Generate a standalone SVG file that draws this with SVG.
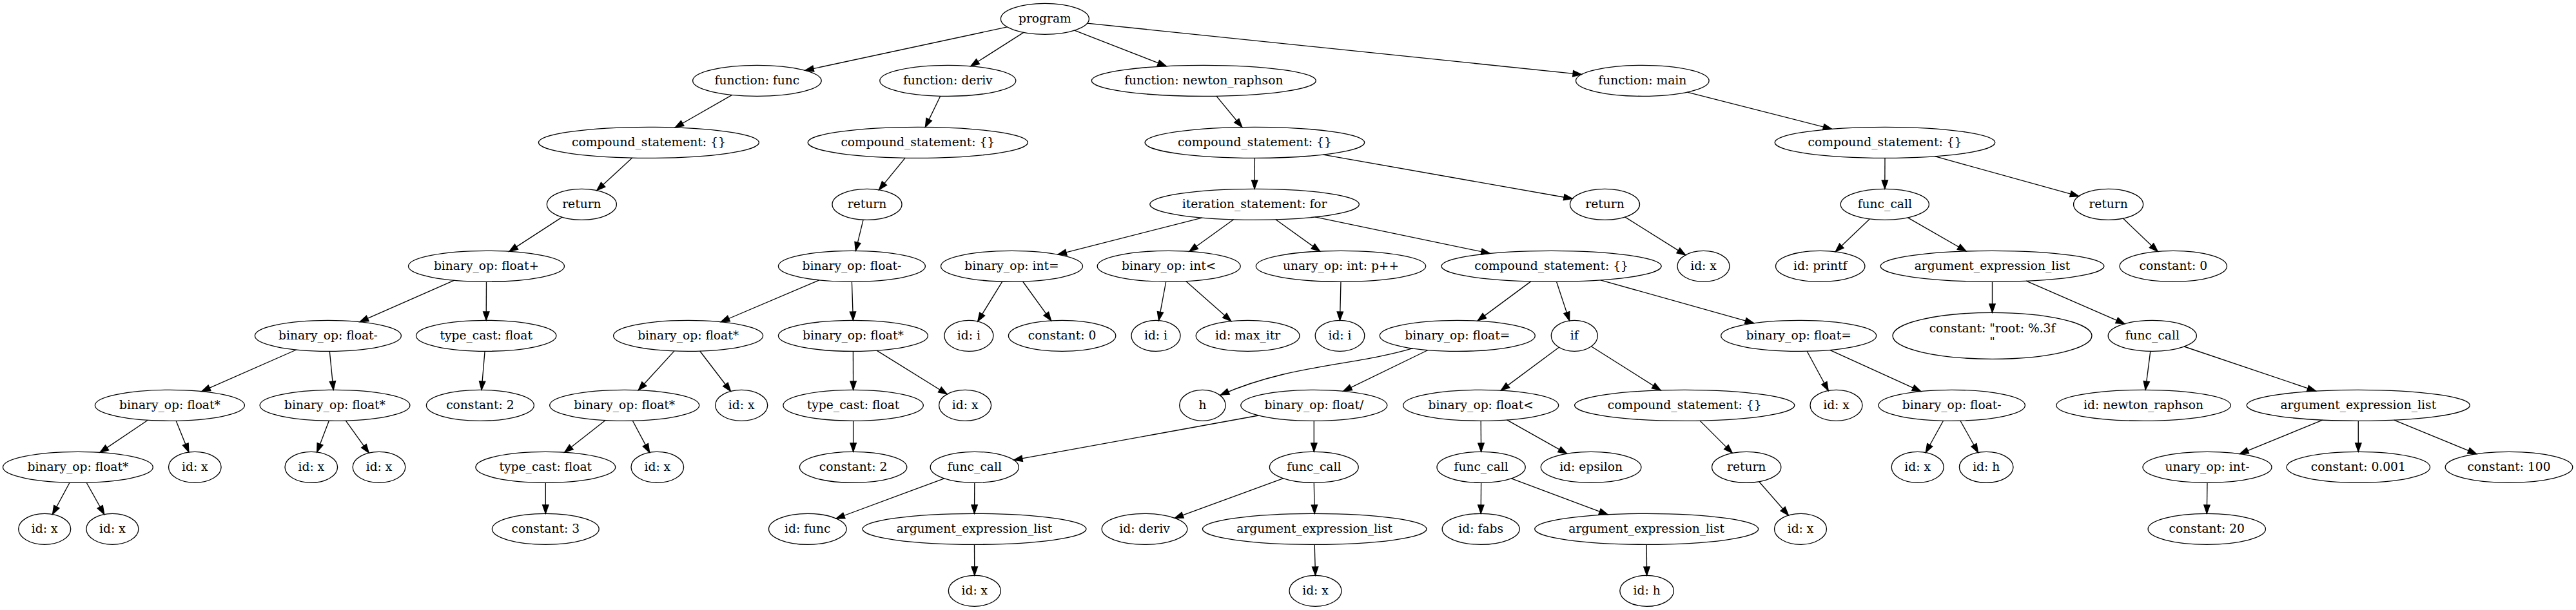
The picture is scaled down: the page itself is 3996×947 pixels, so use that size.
<svg xmlns="http://www.w3.org/2000/svg" width="3996" height="947" viewBox="0 0 3996 947">
<style>
.node ellipse{fill:none;stroke:#000;stroke-width:1.33}
.node text{font-family:"DejaVu Serif","Liberation Serif",serif;font-size:18.67px;text-anchor:middle;fill:#000}
#edges path{fill:none;stroke:#000;stroke-width:1.33;marker-end:url(#arr)}
</style>
<defs>
<marker id="arr" markerUnits="userSpaceOnUse" markerWidth="14" markerHeight="10" refX="13.33" refY="4.67" orient="auto" overflow="visible">
<path d="M0,0 L13.33,4.67 L0,9.33 Z" fill="#000" stroke="#000" stroke-width="1.33"/>
</marker>
</defs>
<rect width="3996" height="947" fill="#fff"/>
<g id="edges">
<path d="M1562.5,41.9 L1248.8,109.3"/>
<path d="M1587.9,50.4 L1505.8,102.7"/>
<path d="M1666.7,47.2 L1809.2,102.7"/>
<path d="M1686.6,36.1 L2453.4,115.6"/>
<path d="M1135.7,147.4 L1047.2,198.0"/>
<path d="M1458.7,149.2 L1435.4,197.4"/>
<path d="M1886.9,149.2 L1926.8,197.5"/>
<path d="M2617.4,143.1 L2841.6,200.3"/>
<path d="M980.7,245.1 L925.8,295.7"/>
<path d="M1404.2,245.2 L1363.5,294.8"/>
<path d="M1946.4,245.33 L1946.1,293.33"/>
<path d="M2052.6,240.1 L2439.3,308.5"/>
<path d="M2924,245.33 L2923.8,293.33"/>
<path d="M3001.3,242.7 L3224.8,304.6"/>
<path d="M871.9,337.1 L789.9,390.4"/>
<path d="M1339.1,341.2 L1327.3,389.4"/>
<path d="M1864.6,338.1 L1641.0,395.1"/>
<path d="M1913.6,340.8 L1845.0,390.3"/>
<path d="M1978.9,340.8 L2047.6,390.1"/>
<path d="M2040.0,336.9 L2311.2,393.4"/>
<path d="M2520.7,336.9 L2614.7,395.9"/>
<path d="M2900.3,339.9 L2847.2,390.8"/>
<path d="M2959.4,337.8 L3050.0,390.0"/>
<path d="M3293.4,339.1 L3347.2,390.4"/>
<path d="M704.75,435.2 L558.1,499.7"/>
<path d="M754.5,437.33 L754.2,497.33"/>
<path d="M1270.85,434.8 L1118.3,499.75"/>
<path d="M1321.4,437.33 L1323.4,497.33"/>
<path d="M1554.8,437.1 L1516.7,499.0"/>
<path d="M1586.6,437.0 L1630.6,497.8"/>
<path d="M1808.7,437.3 L1797.5,497.5"/>
<path d="M1839.6,436.6 L1909.8,498.6"/>
<path d="M2080,437.33 L2078.5,497.33"/>
<path d="M2374.8,436.9 L2292.1,498.15"/>
<path d="M2414.5,437.3 L2434.55,497.9"/>
<path d="M2482.85,434.8 L2720.6,501.7"/>
<path d="M3090.5,437.33 L3090.5,485.33"/>
<path d="M3143.1,436.2 L3295.8,502.6"/>
<path d="M459.7,543.0 L312.8,607.6"/>
<path d="M511.3,545.3 L517.2,605.3"/>
<path d="M752.1,545.3 L747.0,605.3"/>
<path d="M1046.0,544.9 L990.3,605.75"/>
<path d="M1085.7,545.0 L1133.5,607.5"/>
<path d="M1323.4,545.33 L1323.6,605.33"/>
<path d="M1360.0,544.1 L1469.2,612.0"/>
<path d="M2191.7,540.7 C2100,568 2000,566 1893.3,613.3"/>
<path d="M2215.1,543.5 L2083.6,607.3"/>
<path d="M2418.3,539.2 L2328.35,606.15"/>
<path d="M2468.4,537.8 L2576.1,605.9"/>
<path d="M2803.1,545.2 L2836.2,606.5"/>
<path d="M2838.5,543.3 L2979.8,607.6"/>
<path d="M3335.8,545.3 L3328.1,605.3"/>
<path d="M3388.1,538.0 L3592.6,607.1"/>
<path d="M229.35,652.3 L155.0,702.4"/>
<path d="M273.1,653.25 L292.8,702.0"/>
<path d="M510.35,653.25 L491.75,701.9"/>
<path d="M536.4,653.1 L572.2,703.2"/>
<path d="M939.1,652.5 L875.75,702.2"/>
<path d="M981.4,653.2 L1007.6,702.4"/>
<path d="M1323.6,653.33 L1323.6,701.33"/>
<path d="M1952.3,645.0 L1572.6,714.2"/>
<path d="M2038.3,653.33 L2038.3,701.33"/>
<path d="M2297.2,653.33 L2297.6,701.33"/>
<path d="M2337.5,651.9 L2430.65,704.3"/>
<path d="M2637.0,653.1 L2687.3,703.4"/>
<path d="M3014.5,653.2 L2987.3,702.5"/>
<path d="M3041.0,653.2 L3068.5,702.5"/>
<path d="M3602.8,652.1 L3474.5,704.6"/>
<path d="M3658.3,653.33 L3658.3,701.33"/>
<path d="M3713.7,652.1 L3841.7,704.7"/>
<path d="M108.05,749.2 L81.5,798.5"/>
<path d="M134.2,749.2 L161.7,798.5"/>
<path d="M846.3,749.33 L846.3,797.33"/>
<path d="M1464.7,742.8 L1296.9,805.0"/>
<path d="M1511.8,749.33 L1511.5,797.33"/>
<path d="M1990.8,742.7 L1822.2,804.3"/>
<path d="M2038.3,749.33 L2039.2,797.33"/>
<path d="M2297.6,749.33 L2297.2,797.33"/>
<path d="M2344.5,742.9 L2494.0,798.8"/>
<path d="M2728.7,747.7 L2774.4,800.0"/>
<path d="M3424,749.33 L3423.3,797.33"/>
<path d="M1511.5,845.33 L1511.8,893.33"/>
<path d="M2039.2,845.33 L2040.5,893.33"/>
<path d="M2554.2,845.33 L2554.6,893.33"/>
</g>
<g id="n0" class="node"><ellipse cx="1620.9" cy="29.33" rx="68.5" ry="24"/><text x="1620.9" y="34.93">program</text></g>
<g id="n1" class="node"><ellipse cx="1174.4" cy="125.33" rx="99.8" ry="24"/><text x="1174.4" y="130.93">function: func</text></g>
<g id="n2" class="node"><ellipse cx="1470.3" cy="125.33" rx="105.5" ry="24"/><text x="1470.3" y="130.93">function: deriv</text></g>
<g id="n3" class="node"><ellipse cx="1867.3" cy="125.33" rx="174" ry="24"/><text x="1867.3" y="130.93">function: newton_raphson</text></g>
<g id="n4" class="node"><ellipse cx="2547.8" cy="125.33" rx="103.3" ry="24"/><text x="2547.8" y="130.93">function: main</text></g>
<g id="n5" class="node"><ellipse cx="1006.4" cy="221.33" rx="171" ry="24"/><text x="1006.4" y="226.93">compound_statement: {}</text></g>
<g id="n6" class="node"><ellipse cx="1423.8" cy="221.33" rx="170.6" ry="24"/><text x="1423.8" y="226.93">compound_statement: {}</text></g>
<g id="n7" class="node"><ellipse cx="1946.4" cy="221.33" rx="170.3" ry="24"/><text x="1946.4" y="226.93">compound_statement: {}</text></g>
<g id="n8" class="node"><ellipse cx="2924" cy="221.33" rx="170.8" ry="24"/><text x="2924" y="226.93">compound_statement: {}</text></g>
<g id="n9" class="node"><ellipse cx="902.4" cy="317.33" rx="54" ry="24"/><text x="902.4" y="322.93">return</text></g>
<g id="n10" class="node"><ellipse cx="1345" cy="317.33" rx="54" ry="24"/><text x="1345" y="322.93">return</text></g>
<g id="n11" class="node"><ellipse cx="1946.1" cy="317.33" rx="162.3" ry="24"/><text x="1946.1" y="322.93">iteration_statement: for</text></g>
<g id="n12" class="node"><ellipse cx="2489.5" cy="317.33" rx="54" ry="24"/><text x="2489.5" y="322.93">return</text></g>
<g id="n13" class="node"><ellipse cx="2923.8" cy="317.33" rx="68.6" ry="24"/><text x="2923.8" y="322.93">func_call</text></g>
<g id="n14" class="node"><ellipse cx="3270.6" cy="317.33" rx="54" ry="24"/><text x="3270.6" y="322.93">return</text></g>
<g id="n15" class="node"><ellipse cx="754.5" cy="413.33" rx="121" ry="24"/><text x="754.5" y="418.93">binary_op: float+</text></g>
<g id="n16" class="node"><ellipse cx="1321.4" cy="413.33" rx="114" ry="24"/><text x="1321.4" y="418.93">binary_op: float-</text></g>
<g id="n17" class="node"><ellipse cx="1569.5" cy="413.33" rx="110" ry="24"/><text x="1569.5" y="418.93">binary_op: int=</text></g>
<g id="n18" class="node"><ellipse cx="1813.2" cy="413.33" rx="111" ry="24"/><text x="1813.2" y="418.93">binary_op: int&lt;</text></g>
<g id="n19" class="node"><ellipse cx="2080" cy="413.33" rx="131.7" ry="24"/><text x="2080" y="418.93">unary_op: int: p++</text></g>
<g id="n20" class="node"><ellipse cx="2406.6" cy="413.33" rx="170.6" ry="24"/><text x="2406.6" y="418.93">compound_statement: {}</text></g>
<g id="n21" class="node"><ellipse cx="2642.5" cy="413.33" rx="40.5" ry="24"/><text x="2642.5" y="418.93">id: x</text></g>
<g id="n22" class="node"><ellipse cx="2823.7" cy="413.33" rx="69.2" ry="24"/><text x="2823.7" y="418.93">id: printf</text></g>
<g id="n23" class="node"><ellipse cx="3090.5" cy="413.33" rx="173.4" ry="24"/><text x="3090.5" y="418.93">argument_expression_list</text></g>
<g id="n24" class="node"><ellipse cx="3371.3" cy="413.33" rx="83.2" ry="24"/><text x="3371.3" y="418.93">constant: 0</text></g>
<g id="n25" class="node"><ellipse cx="508.9" cy="521.33" rx="113.5" ry="24"/><text x="508.9" y="526.93">binary_op: float-</text></g>
<g id="n26" class="node"><ellipse cx="754.2" cy="521.33" rx="108.7" ry="24"/><text x="754.2" y="526.93">type_cast: float</text></g>
<g id="n27" class="node"><ellipse cx="1067.6" cy="521.33" rx="116" ry="24"/><text x="1067.6" y="526.93">binary_op: float*</text></g>
<g id="n28" class="node"><ellipse cx="1323.4" cy="521.33" rx="116" ry="24"/><text x="1323.4" y="526.93">binary_op: float*</text></g>
<g id="n29" class="node"><ellipse cx="1502.9" cy="521.33" rx="38" ry="24"/><text x="1502.9" y="526.93">id: i</text></g>
<g id="n30" class="node"><ellipse cx="1647.6" cy="521.33" rx="83.2" ry="24"/><text x="1647.6" y="526.93">constant: 0</text></g>
<g id="n31" class="node"><ellipse cx="1793" cy="521.33" rx="38" ry="24"/><text x="1793" y="526.93">id: i</text></g>
<g id="n32" class="node"><ellipse cx="1935.6" cy="521.33" rx="80.4" ry="24"/><text x="1935.6" y="526.93">id: max_itr</text></g>
<g id="n33" class="node"><ellipse cx="2078.5" cy="521.33" rx="38.3" ry="24"/><text x="2078.5" y="526.93">id: i</text></g>
<g id="n34" class="node"><ellipse cx="2260.8" cy="521.33" rx="120.5" ry="24"/><text x="2260.8" y="526.93">binary_op: float=</text></g>
<g id="n35" class="node"><ellipse cx="2442.3" cy="521.33" rx="36" ry="24"/><text x="2442.3" y="526.93">if</text></g>
<g id="n36" class="node"><ellipse cx="2790.2" cy="521.33" rx="120.5" ry="24"/><text x="2790.2" y="526.93">binary_op: float=</text></g>
<g id="n37" class="node"><ellipse cx="3090.5" cy="521.33" rx="154.5" ry="36"/><text x="3090.5" y="515.5">constant: "root: %.3f</text><text x="3090.5" y="536.5">"</text></g>
<g id="n38" class="node"><ellipse cx="3338.8" cy="521.33" rx="68.6" ry="24"/><text x="3338.8" y="526.93">func_call</text></g>
<g id="n39" class="node"><ellipse cx="263.4" cy="629.33" rx="116" ry="24"/><text x="263.4" y="634.93">binary_op: float*</text></g>
<g id="n40" class="node"><ellipse cx="519.5" cy="629.33" rx="116.4" ry="24"/><text x="519.5" y="634.93">binary_op: float*</text></g>
<g id="n41" class="node"><ellipse cx="744.9" cy="629.33" rx="83.5" ry="24"/><text x="744.9" y="634.93">constant: 2</text></g>
<g id="n42" class="node"><ellipse cx="968.7" cy="629.33" rx="116" ry="24"/><text x="968.7" y="634.93">binary_op: float*</text></g>
<g id="n43" class="node"><ellipse cx="1150.2" cy="629.33" rx="40.5" ry="24"/><text x="1150.2" y="634.93">id: x</text></g>
<g id="n44" class="node"><ellipse cx="1323.6" cy="629.33" rx="108.7" ry="24"/><text x="1323.6" y="634.93">type_cast: float</text></g>
<g id="n45" class="node"><ellipse cx="1497.1" cy="629.33" rx="40.5" ry="24"/><text x="1497.1" y="634.93">id: x</text></g>
<g id="n46" class="node"><ellipse cx="1865.4" cy="629.33" rx="35.7" ry="24"/><text x="1865.4" y="634.93">h</text></g>
<g id="n47" class="node"><ellipse cx="2038.3" cy="629.33" rx="113.5" ry="24"/><text x="2038.3" y="634.93">binary_op: float/</text></g>
<g id="n48" class="node"><ellipse cx="2297.2" cy="629.33" rx="120.5" ry="24"/><text x="2297.2" y="634.93">binary_op: float&lt;</text></g>
<g id="n49" class="node"><ellipse cx="2613.2" cy="629.33" rx="170.6" ry="24"/><text x="2613.2" y="634.93">compound_statement: {}</text></g>
<g id="n50" class="node"><ellipse cx="2848.5" cy="629.33" rx="40.5" ry="24"/><text x="2848.5" y="634.93">id: x</text></g>
<g id="n51" class="node"><ellipse cx="3027.7" cy="629.33" rx="113.7" ry="24"/><text x="3027.7" y="634.93">binary_op: float-</text></g>
<g id="n52" class="node"><ellipse cx="3325.1" cy="629.33" rx="135.2" ry="24"/><text x="3325.1" y="634.93">id: newton_raphson</text></g>
<g id="n53" class="node"><ellipse cx="3658.3" cy="629.33" rx="173.1" ry="24"/><text x="3658.3" y="634.93">argument_expression_list</text></g>
<g id="n54" class="node"><ellipse cx="120.9" cy="725.33" rx="116.4" ry="24"/><text x="120.9" y="730.93">binary_op: float*</text></g>
<g id="n55" class="node"><ellipse cx="302.3" cy="725.33" rx="40.8" ry="24"/><text x="302.3" y="730.93">id: x</text></g>
<g id="n56" class="node"><ellipse cx="482.8" cy="725.33" rx="40.8" ry="24"/><text x="482.8" y="730.93">id: x</text></g>
<g id="n57" class="node"><ellipse cx="588" cy="725.33" rx="40.8" ry="24"/><text x="588" y="730.93">id: x</text></g>
<g id="n58" class="node"><ellipse cx="846.3" cy="725.33" rx="108.4" ry="24"/><text x="846.3" y="730.93">type_cast: float</text></g>
<g id="n59" class="node"><ellipse cx="1019.8" cy="725.33" rx="40.8" ry="24"/><text x="1019.8" y="730.93">id: x</text></g>
<g id="n60" class="node"><ellipse cx="1323.6" cy="725.33" rx="83.2" ry="24"/><text x="1323.6" y="730.93">constant: 2</text></g>
<g id="n61" class="node"><ellipse cx="1511.8" cy="725.33" rx="68.6" ry="24"/><text x="1511.8" y="730.93">func_call</text></g>
<g id="n62" class="node"><ellipse cx="2038.3" cy="725.33" rx="68.9" ry="24"/><text x="2038.3" y="730.93">func_call</text></g>
<g id="n63" class="node"><ellipse cx="2297.6" cy="725.33" rx="68.6" ry="24"/><text x="2297.6" y="730.93">func_call</text></g>
<g id="n64" class="node"><ellipse cx="2468.1" cy="725.33" rx="77.8" ry="24"/><text x="2468.1" y="730.93">id: epsilon</text></g>
<g id="n65" class="node"><ellipse cx="2709.2" cy="725.33" rx="53.6" ry="24"/><text x="2709.2" y="730.93">return</text></g>
<g id="n66" class="node"><ellipse cx="2974.7" cy="725.33" rx="40.5" ry="24"/><text x="2974.7" y="730.93">id: x</text></g>
<g id="n67" class="node"><ellipse cx="3081.2" cy="725.33" rx="41.8" ry="24"/><text x="3081.2" y="730.93">id: h</text></g>
<g id="n68" class="node"><ellipse cx="3424" cy="725.33" rx="100" ry="24"/><text x="3424" y="730.93">unary_op: int-</text></g>
<g id="n69" class="node"><ellipse cx="3658.3" cy="725.33" rx="111.3" ry="24"/><text x="3658.3" y="730.93">constant: 0.001</text></g>
<g id="n70" class="node"><ellipse cx="3892" cy="725.33" rx="98.8" ry="24"/><text x="3892" y="730.93">constant: 100</text></g>
<g id="n71" class="node"><ellipse cx="69.2" cy="821.33" rx="40.5" ry="24"/><text x="69.2" y="826.93">id: x</text></g>
<g id="n72" class="node"><ellipse cx="174.4" cy="821.33" rx="40.5" ry="24"/><text x="174.4" y="826.93">id: x</text></g>
<g id="n73" class="node"><ellipse cx="846.3" cy="821.33" rx="82.9" ry="24"/><text x="846.3" y="826.93">constant: 3</text></g>
<g id="n74" class="node"><ellipse cx="1252.8" cy="821.33" rx="60.3" ry="24"/><text x="1252.8" y="826.93">id: func</text></g>
<g id="n75" class="node"><ellipse cx="1511.5" cy="821.33" rx="173.5" ry="24"/><text x="1511.5" y="826.93">argument_expression_list</text></g>
<g id="n76" class="node"><ellipse cx="1775.5" cy="821.33" rx="66.3" ry="24"/><text x="1775.5" y="826.93">id: deriv</text></g>
<g id="n77" class="node"><ellipse cx="2039.2" cy="821.33" rx="173.8" ry="24"/><text x="2039.2" y="826.93">argument_expression_list</text></g>
<g id="n78" class="node"><ellipse cx="2297.2" cy="821.33" rx="60" ry="24"/><text x="2297.2" y="826.93">id: fabs</text></g>
<g id="n79" class="node"><ellipse cx="2554.2" cy="821.33" rx="173.5" ry="24"/><text x="2554.2" y="826.93">argument_expression_list</text></g>
<g id="n80" class="node"><ellipse cx="2793" cy="821.33" rx="40.5" ry="24"/><text x="2793" y="826.93">id: x</text></g>
<g id="n81" class="node"><ellipse cx="3423.3" cy="821.33" rx="91.2" ry="24"/><text x="3423.3" y="826.93">constant: 20</text></g>
<g id="n82" class="node"><ellipse cx="1511.8" cy="917.33" rx="40.5" ry="24"/><text x="1511.8" y="922.93">id: x</text></g>
<g id="n83" class="node"><ellipse cx="2040.5" cy="917.33" rx="40.5" ry="24"/><text x="2040.5" y="922.93">id: x</text></g>
<g id="n84" class="node"><ellipse cx="2554.6" cy="917.33" rx="41.8" ry="24"/><text x="2554.6" y="922.93">id: h</text></g>
</svg>
